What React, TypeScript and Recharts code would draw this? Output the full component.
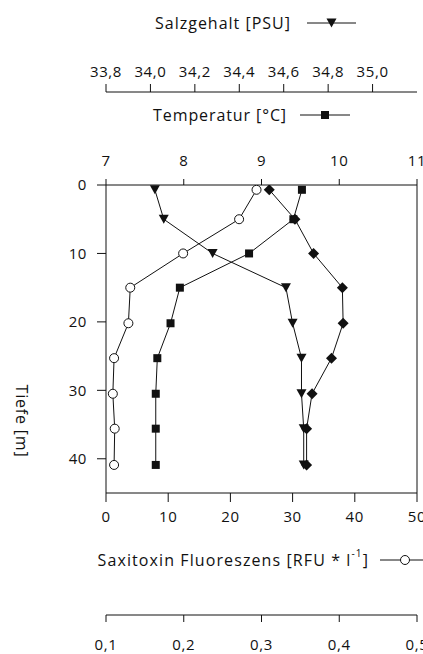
import { ScatterChart, Scatter, XAxis, YAxis } from "recharts";

// depth of each sampling point [m]
const depths = [0.7, 5, 10, 15, 20.2, 25.3, 30.5, 35.6, 40.9];
// Salzgehalt [PSU]
const salinity = [34.02, 34.06, 34.28, 34.61, 34.64, 34.68, 34.68, 34.69, 34.69];
// Temperatur [°C]
const temperature = [9.52, 9.41, 8.84, 7.95, 7.83, 7.66, 7.64, 7.64, 7.64];
// Saxitoxin Fluoreszens [RFU * l-1]
const saxitoxin = [24.2, 21.4, 12.4, 3.9, 3.6, 1.3, 1.1, 1.4, 1.3];
// unlabelled lower axis (diamonds)
const diamondValues = [0.31, 0.343, 0.367, 0.404, 0.405, 0.39, 0.365, 0.358, 0.358];

const depthTicks = [0, 10, 20, 30, 40];
const salTicks = [33.8, 34.0, 34.2, 34.4, 34.6, 34.8, 35.0];
const tempTicks = [7, 8, 9, 10, 11];
const saxTicks = [0, 10, 20, 30, 40, 50];
const diamondTicks = [0.1, 0.2, 0.3, 0.4, 0.5];

const salData = depths.map((d, i) => ({ depth: d, sal: salinity[i] }));
const tempData = depths.map((d, i) => ({ depth: d, temp: temperature[i] }));
const saxData = depths.map((d, i) => ({ depth: d, sax: saxitoxin[i] }));
const diaData = depths.map((d, i) => ({ depth: d, dia: diamondValues[i] }));

const INK = "#111";
const FONT = "'Open Sans', sans-serif";
const tickStyle = { fill: INK, fontSize: 15, letterSpacing: 0.6 };
const comma = (v: number) => v.toFixed(1).replace(".", ",");

const TriangleDown = ({ cx, cy }: any) => (
  <path d={`M${cx - 5},${cy - 4.5} L${cx + 5},${cy - 4.5} L${cx},${cy + 4.5} Z`} fill={INK} />
);
const Square = ({ cx, cy }: any) => (
  <rect x={cx - 4} y={cy - 4} width={8} height={8} fill={INK} />
);
const Circle = ({ cx, cy }: any) => (
  <circle cx={cx} cy={cy} r={4.5} fill="#fff" stroke={INK} strokeWidth={1} />
);
const Diamond = ({ cx, cy }: any) => (
  <path d={`M${cx},${cy - 5.5} L${cx + 5.5},${cy} L${cx},${cy + 5.5} L${cx - 5.5},${cy} Z`} fill={INK} />
);

// legend-like title of an axis: text, then a short line with the marker
const AxisKey = ({ x, y, x1, x2, children, Marker, spacing = 0.8 }: any) => (
  <g>
    <text
      x={x}
      y={y}
      textAnchor="end"
      dominantBaseline="central"
      fontSize={16}
      letterSpacing={spacing}
      fill={INK}
    >
      {children}
    </text>
    <line x1={x1} x2={x2} y1={y} y2={y} stroke={INK} strokeWidth={1} />
    <Marker cx={(x1 + x2) / 2} cy={y} />
  </g>
);

// axis ids sort so that the first one of each side sits on the plot frame
const TEMP = "t1temp";
const SAL = "t2sal";
const SAX = "b1sax";
const DIA = "b2dia";

export default function App() {
  return (
    <div style={{ position: "absolute", left: 0, top: 0, fontFamily: FONT }}>
      <ScatterChart width={423} height={654} margin={{ top: 0, right: 5, bottom: 0, left: 0 }}>
        <XAxis
          xAxisId={TEMP}
          dataKey="temp"
          type="number"
          orientation="top"
          domain={[7, 11]}
          ticks={tempTicks}
          interval={0}
          allowDataOverflow
          height={93}
          tickSize={6}
          tickMargin={13}
          tick={tickStyle}
          stroke={INK}
          label={() => (
            <AxisKey x={287} y={115} x1={300} x2={350} Marker={Square} spacing={0.9}>
              Temperatur [°C]
            </AxisKey>
          )}
        />
        <XAxis
          xAxisId={SAL}
          dataKey="sal"
          type="number"
          orientation="top"
          domain={[33.8, 35.2]}
          ticks={salTicks}
          interval={0}
          allowDataOverflow
          height={92}
          tickSize={8}
          tickMargin={7}
          tick={tickStyle}
          tickFormatter={comma}
          stroke={INK}
          label={() => (
            <AxisKey x={291} y={23} x1={307} x2={356} Marker={TriangleDown} spacing={1}>
              Salzgehalt [PSU]
            </AxisKey>
          )}
        />
        <XAxis
          xAxisId={SAX}
          dataKey="sax"
          type="number"
          orientation="bottom"
          domain={[0, 50]}
          ticks={saxTicks}
          interval={0}
          allowDataOverflow
          height={122}
          tickSize={9}
          tickMargin={9}
          tick={tickStyle}
          stroke={INK}
          label={() => (
            <AxisKey x={369} y={560} x1={380} x2={430} Marker={Circle} spacing={1.1}>
              Saxitoxin Fluoreszens [RFU * l
              <tspan dy={-7} fontSize={10}>-1</tspan>
              <tspan dy={7}>]</tspan>
            </AxisKey>
          )}
        />
        <XAxis
          xAxisId={DIA}
          dataKey="dia"
          type="number"
          orientation="bottom"
          domain={[0.1, 0.5]}
          ticks={diamondTicks}
          interval={0}
          allowDataOverflow
          height={39}
          tickSize={7}
          tickMargin={17}
          tick={tickStyle}
          tickFormatter={comma}
          stroke={INK}
        />
        <YAxis
          yAxisId="depth"
          dataKey="depth"
          type="number"
          reversed
          domain={[0, 45]}
          ticks={depthTicks}
          interval={0}
          allowDataOverflow
          width={106}
          tickSize={9}
          tickMargin={10}
          tick={tickStyle}
          stroke={INK}
          label={() => (
            <text
              transform="translate(22,421) rotate(90)"
              textAnchor="middle"
              dominantBaseline="central"
              fontSize={16}
              letterSpacing={0.8}
              fill={INK}
            >
              Tiefe [m]
            </text>
          )}
        />
        <YAxis
          yAxisId="frame"
          orientation="right"
          type="number"
          domain={[0, 45]}
          width={1}
          tick={false}
          tickLine={false}
          stroke={INK}
        />

        <Scatter
          data={saxData}
          xAxisId={SAX}
          yAxisId="depth"
          line={{ stroke: INK, strokeWidth: 1 }}
          shape={Circle}
          isAnimationActive={false}
        />
        <Scatter
          data={tempData}
          xAxisId={TEMP}
          yAxisId="depth"
          line={{ stroke: INK, strokeWidth: 1 }}
          shape={Square}
          isAnimationActive={false}
        />
        <Scatter
          data={salData}
          xAxisId={SAL}
          yAxisId="depth"
          line={{ stroke: INK, strokeWidth: 1 }}
          shape={TriangleDown}
          isAnimationActive={false}
        />
        <Scatter
          data={diaData}
          xAxisId={DIA}
          yAxisId="depth"
          line={{ stroke: INK, strokeWidth: 1 }}
          shape={Diamond}
          isAnimationActive={false}
        />
      </ScatterChart>
    </div>
  );
}
